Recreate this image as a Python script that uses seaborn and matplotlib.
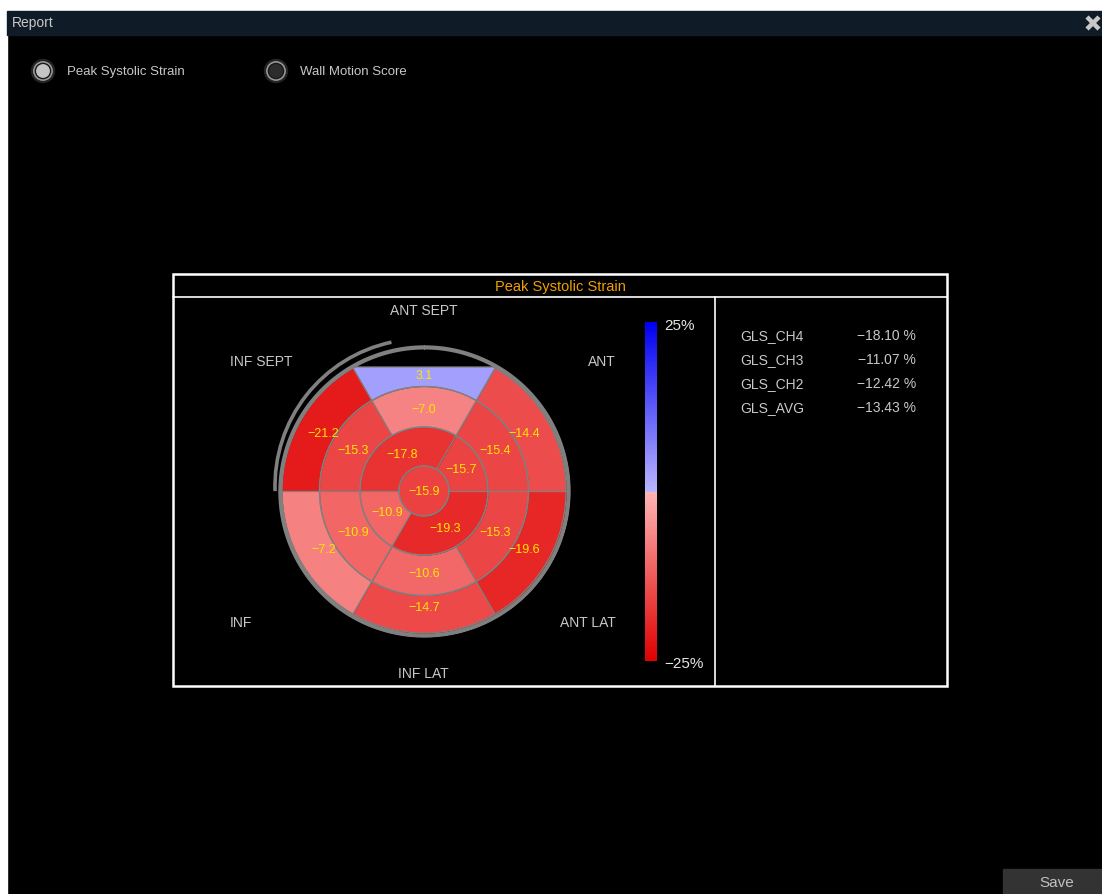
import numpy as np
import matplotlib
matplotlib.use("Agg")
import matplotlib.pyplot as plt
import seaborn as sns
from matplotlib.colors import ListedColormap, Normalize
from matplotlib.cm import ScalarMappable
from matplotlib.patches import Rectangle, Circle, Arc

# ---------------- data ----------------
basal_values = [-14.4, 3.1, -21.2, -7.2, -14.7, -19.6]
basal_edges = [0, 60, 120, 180, 240, 300, 360]
mid_values = [-15.4, -7.0, -15.3, -10.9, -10.6, -15.3]
mid_edges = [0, 60, 120, 180, 240, 300, 360]
apical_values = [-15.7, -17.8, -10.9, -19.3]
apical_edges = [0, 60, 180, 240, 360]
apex_value = -15.9

wall_labels = ["ANT SEPT", "INF SEPT", "ANT", "INF", "ANT LAT", "INF LAT"]
gls_names = ["GLS_CH4", "GLS_CH3", "GLS_CH2", "GLS_AVG"]
gls_values = [-18.10, -11.07, -12.42, -13.43]
scale_min, scale_max = -25, 25
panel_title = "Peak Systolic Strain"
options = ["Peak Systolic Strain", "Wall Motion Score"]
window_title = "Report"
save_label = "Save"

# ---------------- style ----------------
sns.set_style("dark", rc={"axes.facecolor": "black", "figure.facecolor": "black"})
plt.rcParams["font.family"] = ["Liberation Sans", "DejaVu Sans"]

neg = sns.blend_palette(["#e00000", "#ffb4b4"], 128)
pos = sns.blend_palette(["#b9b4ff", "#0000f0"], 128)
cmap = ListedColormap(list(neg) + list(pos))
norm = Normalize(scale_min, scale_max)

def fmt(v, nd=1):
    return f"{v:.{nd}f}".replace("-", "\u2212")

W, H = 1102, 895
fig = plt.figure(figsize=(W / 100, H / 100), dpi=100, facecolor="black")

# ---------------- window chrome (pixel coordinates) ----------------
bg = fig.add_axes([0, 0, 1, 1])
bg.set_xlim(0, W)
bg.set_ylim(H, 0)
bg.axis("off")
bg.add_patch(Rectangle((0, 0), W, H, color="black", zorder=0))
bg.add_patch(Rectangle((0, 0), W, 12, color="white", zorder=1))
bg.add_patch(Rectangle((0, 0), 7, H, color="white", zorder=1))
bg.add_patch(Rectangle((7, 12), W - 7, 24, color="#0f1b26", zorder=1))
bg.text(12, 23, window_title, color="#c8c8c8", fontsize=10, va="center", ha="left", zorder=2)
bg.plot([1087, 1099], [18, 30], color="#c8c8c8", lw=3.2, solid_capstyle="butt", zorder=2)
bg.plot([1087, 1099], [30, 18], color="#c8c8c8", lw=3.2, solid_capstyle="butt", zorder=2)

for (cx, label, sel) in [(43, options[0], True), (276, options[1], False)]:
    bg.add_patch(Circle((cx, 72), 11.5, color="#242424", zorder=2))
    bg.add_patch(Circle((cx, 72), 9.2, color="#9a9a9a", zorder=3))
    bg.add_patch(Circle((cx, 72), 7.6, color="#1a1a1a", zorder=4))
    bg.add_patch(Circle((cx, 72), 6.2, color="#c4c4c4" if sel else "#2c2c2c", zorder=5))
    bg.text(cx + 24, 72, label, color="#c8c8c8", fontsize=9.5, va="center", ha="left", zorder=2)

bg.add_patch(Rectangle((1003, 870), 99, 25, color="#333333", zorder=2))
bg.text(1057, 883, save_label, color="#c0c0c0", fontsize=11, va="center", ha="center", zorder=3)

# panel
bg.add_patch(Rectangle((173, 275), 774, 412, fill=False, ec="white", lw=1.8, zorder=3))
bg.plot([173, 947], [298, 298], color="white", lw=1.2, zorder=3)
bg.plot([715, 715], [298, 687], color="white", lw=1.2, zorder=3)
bg.text(560, 287, panel_title, color="#f0a000", fontsize=10.5, ha="center", va="center", zorder=3)

label_pos = [(424, 311), (261, 362), (602, 362), (241, 623), (588, 623), (423, 674)]
for lab, (x, y) in zip(wall_labels, label_pos):
    bg.text(x, y, lab, color="#c8c8c8", fontsize=10, ha="center", va="center", zorder=3)

for i, (n, v) in enumerate(zip(gls_names, gls_values)):
    y = 336 + 24 * i
    bg.text(740, y, n, color="#c8c8c8", fontsize=10, ha="left", va="center", zorder=3)
    bg.text(916, y, fmt(v, 2) + " %", color="#c8c8c8", fontsize=10, ha="right", va="center", zorder=3)

bg.text(664, 326, f"{scale_max}%", color="#e6e6e6", fontsize=11, ha="left", va="center", zorder=3)
bg.text(664, 664, fmt(scale_min, 0) + "%", color="#e6e6e6", fontsize=11, ha="left", va="center", zorder=3)

# extra grey arc (double ring artefact, upper left)
bg.add_patch(Arc((422, 487), 294, 294, theta1=178, theta2=258, color="#808080", lw=2.6, zorder=3))

# ---------------- colorbar ----------------
cax = fig.add_axes([645 / W, 1 - 662 / H, 12 / W, 339 / H])
cb = fig.colorbar(ScalarMappable(norm=norm, cmap=cmap), cax=cax)
cb.set_ticks([])
cb.outline.set_visible(False)

# ---------------- bullseye (polar axes) ----------------
CX, CY, RMAX = 424, 492, 147
ax = fig.add_axes([(CX - RMAX) / W, 1 - (CY + RMAX) / H, 2 * RMAX / W, 2 * RMAX / H],
                  projection="polar")
ax.set_ylim(0, RMAX)
ax.set_axis_off()

r_apex, r_apical, r_mid, r_basal = 25, 64, 104.5, 142
top_clip = 124
edge_col = "#808080"

def basal_outer(th):
    s = np.sin(th)
    out = np.full_like(th, r_basal)
    m = s > 1e-6
    out[m] = np.minimum(r_basal, top_clip / s[m])
    return out

def draw_ring(values, edges, r_in, r_out_fn, r_lab):
    for i, v in enumerate(values):
        t0, t1 = np.deg2rad(edges[i]), np.deg2rad(edges[i + 1])
        th = np.linspace(t0, t1, 200)
        ro = r_out_fn(th)
        ax.fill_between(th, r_in, ro, color=cmap(norm(v)), lw=0, zorder=2)
        ax.plot(th, ro, color=edge_col, lw=0.9, zorder=3)
        ax.plot(th, np.full_like(th, r_in), color=edge_col, lw=0.9, zorder=3)
        ax.plot([t0, t0], [r_in, ro[0]], color=edge_col, lw=0.9, zorder=3)
        tm = 0.5 * (t0 + t1)
        ax.text(tm, r_lab, fmt(v), color="#ffe400", fontsize=9, ha="center", va="center", zorder=5)

# grey outer ring
th_full = np.linspace(0, 2 * np.pi, 720)
ax.fill_between(th_full, r_basal, RMAX - 0.8, color=edge_col, lw=0, zorder=1)

draw_ring(basal_values, basal_edges, r_mid, basal_outer, 116)
draw_ring(mid_values, mid_edges, r_apical, lambda th: np.full_like(th, r_mid), 82)
draw_ring(apical_values, apical_edges, r_apex, lambda th: np.full_like(th, r_apical), 43)
ax.fill_between(th_full, 0, r_apex, color=cmap(norm(apex_value)), lw=0, zorder=2)
ax.plot(th_full, np.full_like(th_full, r_apex), color=edge_col, lw=0.9, zorder=3)
ax.text(0, 0, fmt(apex_value), color="#ffe400", fontsize=9, ha="center", va="center", zorder=5)

fig.savefig("out.png", dpi=100, facecolor="black")
